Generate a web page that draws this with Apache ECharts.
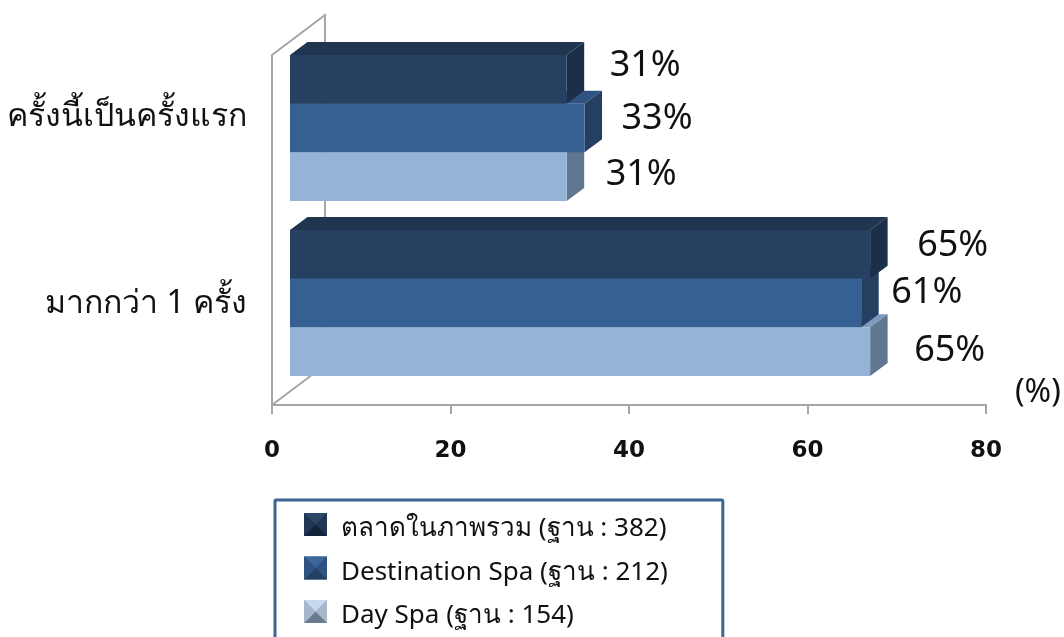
<!DOCTYPE html>
<html>
<head>
<meta charset="utf-8">
<style>html,body{margin:0;padding:0;background:#fff}#c{width:1064px;height:637px}</style>
<script src="https://cdn.jsdelivr.net/npm/echarts@6/dist/echarts.min.js"></script>
</head>
<body>
<div id="c"></div>
<script>
const categories = ['ครั้งนี้เป็นครั้งแรก', 'มากกว่า 1 ครั้ง'];
const seriesNames = ['ตลาดในภาพรวม (ฐาน : 382)', 'Destination Spa (ฐาน : 212)', 'Day Spa (ฐาน : 154)'];
const overallValues = [31, 65];
const destinationValues = [33, 64];
const dayValues = [31, 65];
const overallLabels = ['31%', '65%'];
const destinationLabels = ['33%', '61%'];
const dayLabels = ['31%', '65%'];
const xTicks = [0, 20, 40, 60, 80];

const FONT = '"Noto Sans","Open Sans","DejaVu Sans",sans-serif';
const DEPTH = [17.5, -13], WALL = [53, -40];
const BAR_RATIO = 48.7 / 175, PLANE = [18, -14.5];
const LABEL_NUDGE = [
  [[43, -14], [47, -9]],
  [[37, -9], [30, -10]],
  [[39, -2], [44, -1]]
];
const SKINS = [
  {front: '#254061', top: '#1f3550', side: '#1b2f49'},
  {front: '#376092', top: '#2f5483', side: '#243f60'},
  {front: '#95b3d7', top: '#7d9bc0', side: '#5f7790'}
];
const ICONS = [
  {t: '#2c4868', s: '#1f3654', b: '#11233b'},
  {t: '#3b669c', s: '#2f5282', b: '#24415f'},
  {t: '#c7d9f0', s: '#a8b6ca', b: '#6b7a8d'}
];

function barRenderer(si, labels) {
  return function (params, api) {
    const v = api.value(0), c = api.value(1);
    const p0 = api.coord([0, c]), p1 = api.coord([v, c]);
    const band = api.size([0, 1])[1], h = band * BAR_RATIO;
    const x0 = p0[0] + PLANE[0], x1 = p1[0] + PLANE[0];
    const y0 = p0[1] + PLANE[1] - 1.5 * h + si * h, y1 = y0 + h;
    const d = DEPTH, s = SKINS[si], n = LABEL_NUDGE[si][c];
    return {
      type: 'group',
      children: [
        {type: 'polygon', shape: {points: [[x0, y0], [x1, y0], [x1 + d[0], y0 + d[1]], [x0 + d[0], y0 + d[1]]]}, style: {fill: s.top}},
        {type: 'polygon', shape: {points: [[x1, y0], [x1 + d[0], y0 + d[1]], [x1 + d[0], y1 + d[1]], [x1, y1]]}, style: {fill: s.side}},
        {type: 'rect', shape: {x: x0, y: y0, width: x1 - x0, height: h}, style: {fill: s.front}},
        {type: 'text', x: x1 + n[0], y: (y0 + y1) / 2 + n[1], style: {text: labels[c], fill: '#111', font: '36px ' + FONT, align: 'left', verticalAlign: 'middle'}}
      ]
    };
  };
}
function barSeries(si, values, labels) {
  return {
    name: seriesNames[si], type: 'custom', coordinateSystem: 'cartesian2d', z: 5 - si,
    encode: {x: 0, y: 1}, itemStyle: {color: SKINS[si].front}, silent: true,
    renderItem: barRenderer(si, labels),
    data: values.map((v, i) => [v, i])
  };
}
function wallSeries() {
  return {
    type: 'custom', coordinateSystem: 'cartesian2d', z: 1, silent: true, encode: {x: 0, y: 1},
    renderItem: function (params) {
      const g = params.coordSys, L = g.x, T = g.y, B = g.y + g.height;
      const st = {fill: 'none', stroke: '#a6a6a6', lineWidth: 2};
      return {type: 'group', children: [
        {type: 'polyline', shape: {points: [[L, T], [L + WALL[0], T + WALL[1]], [L + WALL[0], B + WALL[1]]]}, style: st},
        {type: 'line', shape: {x1: L, y1: B, x2: L + WALL[0], y2: B + WALL[1]}, style: st}
      ]};
    },
    data: [[0, 0]]
  };
}
function iconGraphic(i, x, y, size) {
  const c = ICONS[i], m = [x + size / 2, y + size / 2];
  const A = [x, y], B = [x + size, y], C = [x + size, y + size], D = [x, y + size];
  const tri = (p, q, f) => ({type: 'polygon', z: 100, shape: {points: [p, q, m]}, style: {fill: f}});
  return [tri(A, B, c.t), tri(B, C, c.s), tri(C, D, c.b), tri(D, A, c.s)];
}

const chart = echarts.init(document.getElementById('c'), null, {renderer: 'canvas'});
chart.setOption({
  animation: false,
  backgroundColor: '#fff',
  grid: {left: 272, right: 78, top: 55, bottom: 232, containLabel: false},
  xAxis: {
    type: 'value', min: 0, max: 80, interval: 20, position: 'bottom',
    name: '(%)', nameLocation: 'end', nameGap: 29,
    nameTextStyle: {fontFamily: FONT, fontSize: 32, color: '#111', verticalAlign: 'bottom', lineHeight: 24},
    axisLine: {show: true, lineStyle: {color: '#a6a6a6', width: 2}},
    axisTick: {show: true, length: 9, lineStyle: {color: '#a6a6a6', width: 2}},
    splitLine: {show: false},
    axisLabel: {margin: 35, fontFamily: '"DejaVu Sans"', fontWeight: 'bold', fontSize: 23, color: '#111',
      hideOverlap: false, showMinLabel: true, showMaxLabel: true,
      formatter: v => String(xTicks[xTicks.indexOf(v)])}
  },
  yAxis: {
    type: 'category', inverse: true,
    data: categories,
    axisLine: {show: true, onZero: false, lineStyle: {color: '#a6a6a6', width: 2}},
    axisTick: {show: false},
    splitLine: {show: false},
    axisLabel: {margin: 25, fontFamily: FONT, fontSize: 32, color: '#111', interval: 0,
      formatter: (v, i) => '{c' + i + '|' + v + '}',
      rich: {
        c0: {fontFamily: FONT, fontSize: 32, color: '#111', padding: [0, 0, 52, 0]},
        c1: {fontFamily: FONT, fontSize: 32, color: '#111', padding: [0, 0, 28, 0]}
      }}
  },
  legend: {
    show: true, left: 275, top: 500, orient: 'vertical', align: 'left', height: 300,
    padding: [7, 55, 60, 29], itemWidth: 23, itemHeight: 23, itemGap: 8.5,
    borderColor: '#3f6593', borderWidth: 3, backgroundColor: '#fff', borderRadius: 1,
    selectedMode: false,
    formatter: n => '{t|' + n + '}',
    textStyle: {
      fontFamily: FONT, fontSize: 26, color: '#111',
      rich: {t: {fontFamily: FONT, fontSize: 26, color: '#111', lineHeight: 23, padding: [9, 0, 0, 9]}}
    },
    data: seriesNames.map((n, i) => ({name: n, icon: 'rect'}))
  },
  graphic: [].concat(iconGraphic(0, 304, 513, 23), iconGraphic(1, 304, 556.5, 23), iconGraphic(2, 304, 600, 23)),
  series: [
    wallSeries(),
    barSeries(0, overallValues, overallLabels),
    barSeries(1, destinationValues, destinationLabels),
    barSeries(2, dayValues, dayLabels)
  ]
});
</script>
</body>
</html>
